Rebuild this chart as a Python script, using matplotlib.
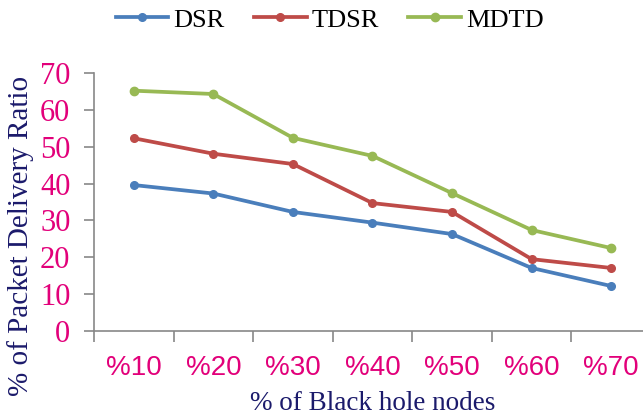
import matplotlib
matplotlib.use("Agg")
import matplotlib.pyplot as plt

categories = ["%10", "%20", "%30", "%40", "%50", "%60", "%70"]
dsr = [39.6, 37.3, 32.3, 29.4, 26.3, 17.1, 12.2]
tdsr = [52.3, 48.1, 45.3, 34.7, 32.3, 19.5, 17.1]
mdtd = [65.2, 64.3, 52.4, 47.5, 37.4, 27.4, 22.5]

serif = "Liberation Serif"
pink = "#E2007A"
navy = "#1B1A6B"
grey = "#878787"

fig = plt.figure(figsize=(6.43, 4.16), dpi=100)
ax = fig.add_axes([94 / 643, 85 / 416, 557 / 643, 258 / 416])

x = list(range(len(categories)))
ax.plot(x, dsr, color="#4A7EBB", lw=2.7, marker="o", ms=5.5, label="DSR")
ax.plot(x, tdsr, color="#BE4B48", lw=2.7, marker="o", ms=5.5, label="TDSR")
ax.plot(x, mdtd, color="#98B954", lw=2.7, marker="o", ms=6, label="MDTD")

ax.set_xlim(-0.5, len(categories) - 0.5)
ax.set_ylim(0, 70)
ax.set_yticks(range(0, 71, 10))

for s in ["top", "right"]:
    ax.spines[s].set_visible(False)
for s in ["left", "bottom"]:
    ax.spines[s].set_color(grey)
    ax.spines[s].set_linewidth(1.2)

ax.set_xticks(x)
ax.set_xticklabels(categories, fontfamily="Liberation Sans", fontsize=20, color=pink)
ax.set_xticks([i - 0.5 for i in range(len(categories) + 1)], minor=True)
ax.tick_params(axis="x", which="major", length=0, pad=17)
ax.tick_params(axis="x", which="minor", length=8, width=1.2, color=grey, direction="out")
ax.tick_params(axis="y", length=7, width=1.2, color=grey, pad=10)
for t in ax.get_yticklabels():
    t.set_fontfamily(serif)
    t.set_fontsize(22)
    t.set_color(pink)

ax.set_xlabel("% of Black hole nodes", fontfamily=serif, fontsize=19.5, color=navy)
ax.xaxis.set_label_coords(0.5, -0.232)
ax.set_ylabel("% of Packet Delivery Ratio", fontfamily=serif, fontsize=21, color=navy)
ax.yaxis.set_label_coords(-0.108, 0.37)

fig.legend(loc="center", bbox_to_anchor=(0.513, 0.952), ncol=3, frameon=False,
           prop={"family": serif, "size": 19}, handlelength=2.0,
           handletextpad=0.2, columnspacing=1.1, borderaxespad=0)

fig.savefig("out.png", dpi=100)
